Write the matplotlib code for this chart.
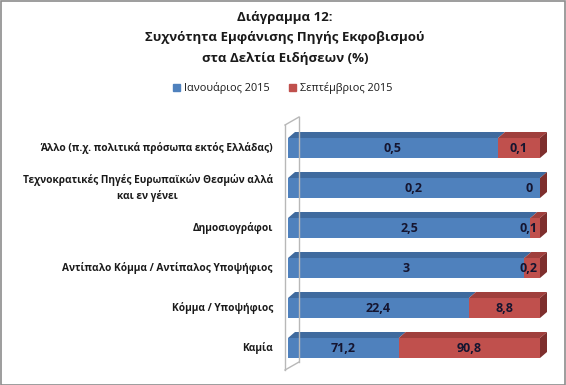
import matplotlib.pyplot as plt
from matplotlib.patches import Polygon, Rectangle
from matplotlib.lines import Line2D
import numpy as np

plt.rcParams['font.family'] = ['Open Sans', 'DejaVu Sans']

categories = ['Άλλο (π.χ. πολιτικά πρόσωπα εκτός Ελλάδας)',
              'Τεχνοκρατικές Πηγές Ευρωπαϊκών Θεσμών αλλά\nκαι εν γένει',
              'Δημοσιογράφοι',
              'Αντίπαλο Κόμμα / Αντίπαλος Υποψήφιος',
              'Κόμμα / Υποψήφιος',
              'Καμία']
jan = [0.5, 0.2, 2.5, 3, 22.4, 71.2]
sep = [0.1, 0, 0.1, 0.2, 8.8, 90.8]
series_names = ['Ιανουάριος 2015', 'Σεπτέμβριος 2015']
title = 'Διάγραμμα 12:\nΣυχνότητα Εμφάνισης Πηγής Εκφοβισμού\nστα Δελτία Ειδήσεων (%)'

blue, red = '#4F81BD', '#C0504D'
blue_top, red_top = '#3F6A9E', '#A03F3C'
red_side = '#7E2F2D'

W, H = 566, 385
fig = plt.figure(figsize=(W / 100, H / 100), dpi=100)

def px(x, y):
    return x / W, 1 - y / H

# axes: x 0..1 maps to pixels 288..540, rows centred at 148 + 40*i
ax = fig.add_axes([288 / W, 1 - 368 / H, (540 - 288) / W, 240 / H])
ax.set_xlim(0, 1)
ax.set_ylim(5.5, -0.5)
ax.axis('off')

jan = np.array(jan, dtype=float)
sep = np.array(sep, dtype=float)
tot = jan + sep
fj = jan / tot
fs = sep / tot
y = np.arange(len(categories))
h = 0.5
dx, dy = 7 / 252, 6 / 40

# 3D wall (drawn in figure pixels)
wall = [((285, 125), (285, 370)), ((285, 125), (299, 117)),
        ((299, 117), (299, 362)), ((285, 370), (299, 362))]
for (x0, y0), (x1, y1) in wall:
    a, b = px(x0, y0), px(x1, y1)
    fig.add_artist(Line2D([a[0], b[0]], [a[1], b[1]], color='#b8b8b8', lw=1))

ax.barh(y, fj, height=h, color=blue, edgecolor='none')
ax.barh(y, fs, left=fj, height=h, color=red, edgecolor='none')

for i in range(len(y)):
    top = y[i] - h / 2
    # top faces
    for left, width, c in [(0, fj[i], blue_top), (fj[i], fs[i], red_top)]:
        if width <= 0:
            continue
        ax.add_patch(Polygon([(left, top), (left + width, top),
                              (left + width + dx, top - dy), (left + dx, top - dy)],
                             closed=True, color=c, clip_on=False, lw=0))
    # side face
    ax.add_patch(Polygon([(1, top), (1 + dx, top - dy), (1 + dx, top + h - dy), (1, top + h)],
                         closed=True, color=red_side, clip_on=False, lw=0))
    # labels
    lbl_j = ('%g' % jan[i]).replace('.', ',')
    lbl_s = ('%g' % sep[i]).replace('.', ',')
    ax.text(fj[i] / 2, y[i], lbl_j, ha='center', va='center', fontsize=9,
            fontweight='bold', color='#151530')
    xs = fj[i] + fs[i] / 2
    if fs[i] < 0.08:
        xs = 1 - 0.045
    ax.text(xs, y[i], lbl_s, ha='center', va='center', fontsize=9,
            fontweight='bold', color='#151530')
    ax.text(-0.06, y[i], categories[i], ha='right', va='center', fontsize=7.3,
            fontweight='bold', color='#1a1a1a', transform=ax.transData,
            multialignment='center', linespacing=1.5)

fig.text(px(285, 0)[0], px(285, 11)[1], title, ha='center', va='top',
         fontsize=9.5, fontweight='bold', linespacing=1.75, color='#1a1a1a')

# legend
for (sx, tx), name, c in zip([(173, 184), (289, 300)], series_names, [blue, red]):
    a = px(sx, 91)
    fig.add_artist(Rectangle(a, 7 / W, 7 / H, color=c, transform=fig.transFigure))
    b = px(tx, 87.5)
    fig.text(b[0], b[1], name, ha='left', va='center', fontsize=7.8, color='#1a1a1a')

fig.add_artist(Rectangle((0.5 / W, 0.5 / H), 1 - 1.5 / W, 1 - 1.5 / H, fill=False,
                         edgecolor='#8c8c8c', lw=1.2, transform=fig.transFigure))

fig.savefig('out.png', dpi=100)
